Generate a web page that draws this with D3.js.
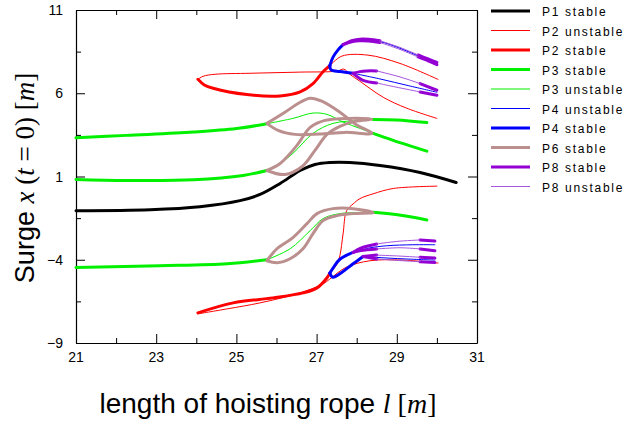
<!DOCTYPE html>
<html>
<head>
<meta charset="utf-8">
<script src="https://cdn.jsdelivr.net/npm/d3@7"></script>
<style>
  body { margin: 0; background: #fff; }
  svg { display: block; }
</style>
</head>
<body>
<script>
// chart size + plot box
let svgWidth = 626;
let svgHeight = 427;
let margin = { top: 10, right: 149, bottom: 84, left: 76 };
let chartWidth = svgWidth - margin.left - margin.right;
let chartHeight = svgHeight - margin.top - margin.bottom;

// axis values
let xDomain = [21, 31];
let yDomain = [-9, 11];
let xTickValues = d3.range(21, 31.01, 1);
let xTickLabels = [21, 23, 25, 27, 29, 31];
let yTickValues = d3.range(-9, 11.01, 2.5);
let yTickLabels = [-9, -4, 1, 6, 11];

// legend entries (order = draw order)
let seriesNames = ['P1 stable', 'P2 unstable', 'P2 stable', 'P3 stable', 'P3 unstable',
                   'P4 unstable', 'P4 stable', 'P6 stable', 'P8 stable', 'P8 unstable'];
let seriesColors = ['#000000', '#ff0000', '#ff0000', '#00f000', '#00f000',
                    '#0000ff', '#0000ff', '#bc8f8f', '#9400d3', '#a455dd'];
let seriesStable = [true, false, true, true, false, false, true, true, true, false];

// ---- data: [rope length l, surge x] ----
let p1Stable = [[21, -1.05], [22.85, -0.99], [24.09, -0.81], [25.09, -0.45], [25.59, -0.08],
  [26.09, 0.58], [26.59, 1.36], [26.96, 1.72], [27.33, 1.84], [27.83, 1.84], [28.58, 1.66],
  [29.58, 1.24], [30.48, 0.64]];

let p2UnstableA = [[30.0, 4.49], [29.25, 5.10], [28.66, 5.76], [28.08, 6.72], [27.83, 7.14],
  [27.68, 7.45], [27.51, 7.33], [26.59, 7.27], [25.34, 7.20], [24.47, 7.14], [24.17, 7.02], [24.04, 6.84]];
let p2StableA = [[24.04, 6.84], [24.2, 6.5], [24.42, 6.30], [25.26, 5.92], [26.09, 5.84],
  [26.59, 6.08], [26.91, 6.58], [27.16, 7.29], [27.33, 7.66]];
let p2UnstableB = [[27.33, 7.66], [27.63, 8.23], [28.28, 8.29], [29.08, 7.79], [30.03, 6.83]];
let p2StableC = [[24.04, -7.19], [24.92, -6.59], [25.91, -6.29], [26.66, -5.99], [27.01, -5.69],
  [27.26, -5.08], [27.33, -4.8]];
let p2UnstableC = [[24.04, -7.25], [24.77, -6.95], [25.59, -6.59], [26.59, -5.99], [27.16, -5.45],
  [27.33, -5.16], [27.73, -4.46], [28.33, -4.06], [29.15, -4.02], [30.03, -4.2]];
let p2UnstableD = [[27.33, -4.8], [27.5, -4.3], [27.58, -3.76], [27.66, -2.45], [27.75, -1.05],
  [27.91, -0.65], [28.08, -0.33], [28.41, -0.04], [28.91, 0.28], [30.0, 0.42]];

let p3StableA1 = [[21, 3.32], [22.26, 3.47], [23.93, 3.67], [25.0, 3.88], [25.76, 4.17]];
let p3StableA2 = [[28.41, 3.59], [28.91, 3.17], [29.75, 2.52]];
let p3StableB1 = [[21, 0.82], [22.26, 0.76], [23.93, 0.80], [25.17, 1.06], [25.76, 1.36]];
let p3StableB2 = [[28.41, 4.43], [29.0, 4.4], [29.75, 4.24]];
let p3StableC1 = [[21, -4.46], [23.09, -4.36], [24.77, -4.24], [25.76, -4.0]];
let p3StableC2 = [[28.41, -1.15], [29.1, -1.33], [29.75, -1.61]];
let p3UnstableA = [[25.76, 4.17], [26.41, 4.49], [26.91, 4.81], [27.26, 4.73], [27.66, 4.27],
  [28.08, 3.89], [28.41, 3.59]];
let p3UnstableB = [[25.76, 1.36], [25.91, 1.48], [26.41, 2.39], [26.91, 3.59], [27.41, 4.19],
  [28.08, 4.37], [28.41, 4.43]];
let p3UnstableC = [[25.76, -4.0], [26.34, -3.34], [26.84, -2.25], [27.16, -1.53], [27.58, -1.23],
  [28.41, -1.15]];

let p4StableA = [[27.33, 7.66], [27.41, 8.17], [27.53, 8.59], [27.66, 8.92]];
let p4StableB = [[27.33, 7.66], [27.36, 7.4], [27.58, 7.3], [27.91, 7.2]];
let p4StableC = [[27.33, -4.8], [27.41, -4.5], [27.58, -3.97], [27.91, -3.56]];
let p4StableD = [[27.33, -4.8], [27.4, -5.05], [27.58, -4.84], [27.91, -4.24], [28.16, -3.8]];
let p4UnstableA = [[27.66, 8.92], [28.08, 9.19], [28.58, 9.1], [29.08, 8.7], [29.58, 8.2], [30.0, 7.8]];
let p4UnstableB = [[27.91, 7.2], [28.58, 6.86], [29.3, 6.45], [30.0, 6.06]];
let p4UnstableC = [[27.91, -3.56], [28.3, -3.3], [28.75, -3.16], [29.4, -3.1], [29.95, -3.1]];
let p4UnstableD = [[28.16, -3.8], [28.5, -3.86], [29.2, -3.95], [29.95, -4.02]];

let p6LoopA = [[25.76, 4.19], [26.21, 4.86], [26.59, 5.46], [26.84, 5.70], [27.13, 5.52], [27.58, 4.86],
  [27.98, 4.13], [28.38, 3.59], [27.71, 3.65], [27.08, 3.55], [26.46, 3.53], [26.04, 3.77], [25.76, 4.19]];
let p6LoopB = [[25.76, 1.36], [26.09, 1.78], [26.51, 2.87], [26.84, 3.95], [27.21, 4.37], [27.83, 4.49],
  [28.38, 4.43], [27.96, 4.31], [27.58, 4.01], [27.26, 3.53], [26.96, 2.57], [26.64, 1.60], [26.21, 1.12],
  [25.76, 1.36]];
let p6LoopC = [[25.76, -4.06], [26.01, -3.34], [26.41, -2.67], [26.76, -1.83], [27.01, -1.23],
  [27.41, -0.93], [27.91, -0.93], [28.41, -1.17], [27.91, -1.23], [27.51, -1.35], [27.16, -1.65],
  [26.91, -2.43], [26.66, -3.34], [26.34, -3.94], [26.01, -4.18], [25.76, -4.06]];

// P8, upper group
let p8StableU1a = [[27.66, 8.92], [27.9, 9.17], [28.08, 9.25], [28.3, 9.24], [28.58, 9.15]];
let p8UnstableU1 = [[28.58, 9.15], [29.08, 8.75], [29.53, 8.3]];
let p8StableU1b = [[29.53, 8.3], [29.78, 8.06], [30.0, 7.85]];
let p8StableU2a = [[27.66, 8.92], [27.9, 9.1], [28.08, 9.15], [28.3, 9.14], [28.58, 9.05]];
let p8UnstableU2 = [[28.58, 9.05], [29.08, 8.63], [29.53, 8.18]];
let p8StableU2b = [[29.53, 8.18], [29.78, 7.95], [30.0, 7.72]];
let p8StableL1a = [[27.91, 7.2], [28.08, 7.3], [28.25, 7.34], [28.5, 7.34]];
let p8UnstableL1 = [[28.5, 7.34], [29.08, 6.98], [29.58, 6.58]];
let p8StableL1b = [[29.58, 6.58], [30.0, 6.18]];
let p8StableL2a = [[27.91, 7.2], [28.16, 6.78], [28.5, 6.62]];
let p8UnstableL2 = [[28.5, 6.62], [28.76, 6.48], [29.58, 6.08]];
let p8StableL2b = [[29.58, 6.08], [30.0, 5.88]];
// P8, lower group
let p8StableM1a = [[27.91, -3.56], [28.1, -3.3], [28.5, -3.05]];
let p8UnstableM1 = [[28.5, -3.05], [29.0, -2.9], [29.58, -2.81]];
let p8StableM1b = [[29.58, -2.81], [29.95, -2.88]];
let p8StableM2a = [[27.91, -3.56], [28.1, -3.45], [28.5, -3.35]];
let p8UnstableM2 = [[28.5, -3.35], [29.08, -3.28], [29.58, -3.35]];
let p8StableM2b = [[29.58, -3.35], [29.95, -3.46]];
let p8StableN1a = [[28.16, -3.8], [28.5, -3.72]];
let p8UnstableN1 = [[28.5, -3.72], [29.08, -3.78], [29.58, -3.85]];
let p8StableN1b = [[29.58, -3.85], [29.95, -3.9]];
let p8StableN2a = [[28.16, -3.8], [28.5, -3.95]];
let p8UnstableN2 = [[28.5, -3.95], [29.08, -4.05], [29.58, -4.12]];
let p8StableN2b = [[29.58, -4.12], [29.95, -4.16]];

// which arrays belong to which legend entry
let curves = [
  ['P1 stable', [p1Stable]],
  ['P2 unstable', [p2UnstableA, p2UnstableB, p2UnstableC, p2UnstableD]],
  ['P2 stable', [p2StableA, p2StableC]],
  ['P3 stable', [p3StableA1, p3StableA2, p3StableB1, p3StableB2, p3StableC1, p3StableC2]],
  ['P3 unstable', [p3UnstableA, p3UnstableB, p3UnstableC]],
  ['P4 unstable', [p4UnstableA, p4UnstableB, p4UnstableC, p4UnstableD]],
  ['P4 stable', [p4StableA, p4StableB, p4StableC, p4StableD]],
  ['P6 stable', [p6LoopA, p6LoopB, p6LoopC]],
  ['P8 stable', [p8StableU1a, p8StableU1b, p8StableU2a, p8StableU2b, p8StableL1a, p8StableL1b,
                 p8StableL2a, p8StableL2b, p8StableM1a, p8StableM1b, p8StableM2a, p8StableM2b,
                 p8StableN1a, p8StableN1b, p8StableN2a, p8StableN2b]],
  ['P8 unstable', [p8UnstableU1, p8UnstableU2, p8UnstableL1, p8UnstableL2,
                   p8UnstableM1, p8UnstableM2, p8UnstableN1, p8UnstableN2]]
];

// ---- svg ----
let svg = d3.select('body').append('svg')
  .attr('width', svgWidth)
  .attr('height', svgHeight);

let xScale = d3.scaleLinear().domain(xDomain).range([margin.left, margin.left + chartWidth]);
let yScale = d3.scaleLinear().domain(yDomain).range([margin.top + chartHeight, margin.top]);

let color = d3.scaleOrdinal().domain(seriesNames).range(seriesColors);
let stable = d3.scaleOrdinal().domain(seriesNames).range(seriesStable);

// axes: ticks inward on all four sides, labels only left + bottom
function tickSize(v, labels) { return labels.includes(v) ? 9 : 5; }

let fmt = d => d < 0 ? '\u2212' + Math.abs(d) : String(d);

let bottomAxis = svg.append('g').attr('transform', `translate(0, ${margin.top + chartHeight})`);
bottomAxis.call(d3.axisBottom(xScale).tickValues(xTickValues).tickSize(0).tickFormat(''));
bottomAxis.selectAll('.tick').append('line').attr('y2', d => -tickSize(d, xTickLabels)).attr('stroke', '#000');
let topAxis = svg.append('g').attr('transform', `translate(0, ${margin.top})`);
topAxis.call(d3.axisTop(xScale).tickValues(xTickValues).tickSize(0).tickFormat(''));
topAxis.selectAll('.tick').append('line').attr('y2', d => tickSize(d, xTickLabels)).attr('stroke', '#000');
let leftAxis = svg.append('g').attr('transform', `translate(${margin.left}, 0)`);
leftAxis.call(d3.axisLeft(yScale).tickValues(yTickValues).tickSize(0).tickFormat(''));
leftAxis.selectAll('.tick').append('line').attr('x2', d => tickSize(d, yTickLabels)).attr('stroke', '#000');
let rightAxis = svg.append('g').attr('transform', `translate(${margin.left + chartWidth}, 0)`);
rightAxis.call(d3.axisRight(yScale).tickValues(yTickValues).tickSize(0).tickFormat(''));
rightAxis.selectAll('.tick').append('line').attr('x2', d => -tickSize(d, yTickLabels)).attr('stroke', '#000');
svg.selectAll('.domain').attr('stroke', '#000').attr('stroke-width', 1.2);

// tick labels
svg.append('g').selectAll('text').data(xTickLabels).enter().append('text')
  .attr('x', d => xScale(d)).attr('y', margin.top + chartHeight + 19)
  .attr('text-anchor', 'middle')
  .style('font', '14px "Liberation Sans", Arial, sans-serif')
  .text(fmt);
svg.append('g').selectAll('text').data(yTickLabels).enter().append('text')
  .attr('x', margin.left - 13).attr('y', d => yScale(d) + 5)
  .attr('text-anchor', 'end')
  .style('font', '14px "Liberation Sans", Arial, sans-serif')
  .text(fmt);

// curves
let line = d3.line()
  .x(d => xScale(d[0]))
  .y(d => yScale(d[1]))
  .curve(d3.curveCatmullRom.alpha(0.5));

let plot = svg.append('g');
curves.forEach(function (c) {
  plot.selectAll(null).data(c[1]).enter().append('path')
    .attr('d', line)
    .attr('fill', 'none')
    .attr('stroke', color(c[0]))
    .attr('stroke-width', stable(c[0]) ? 3 : 1)
    .attr('stroke-linecap', 'round')
    .attr('stroke-linejoin', 'round');
});

// legend
let legend = svg.append('g').selectAll('g').data(seriesNames).enter().append('g')
  .attr('transform', (d, i) => `translate(491, ${11 + i * 19.5})`);
legend.append('line')
  .attr('x1', 0).attr('x2', 39)
  .attr('stroke', d => color(d))
  .attr('stroke-width', d => stable(d) ? 3 : 1);
legend.append('text')
  .attr('x', 51).attr('y', 5)
  .style('font', '12px "Liberation Sans", Arial, sans-serif')
  .style('letter-spacing', '1.7px')
  .text(d => d);

// axis titles
let sans = '"Liberation Sans", Arial, sans-serif';
let serif = '"Liberation Serif", "DejaVu Serif", serif';

let xTitle = svg.append('text')
  .attr('x', 268).attr('y', 413)
  .attr('text-anchor', 'middle')
  .style('font-size', '28px');
xTitle.append('tspan').style('font-family', sans).text('length of hoisting rope ');
xTitle.append('tspan').style('font-family', serif).style('font-style', 'italic').text('l');
xTitle.append('tspan').style('font-family', serif).text(' [');
xTitle.append('tspan').style('font-family', serif).style('font-style', 'italic').text('m');
xTitle.append('tspan').style('font-family', serif).text(']');

let yTitle = svg.append('text')
  .attr('transform', 'translate(34, 178) rotate(-90)')
  .attr('text-anchor', 'middle')
  .style('font-size', '27px');
yTitle.append('tspan').style('font-family', sans).text('Surge ');
yTitle.append('tspan').style('font-family', serif).style('font-style', 'italic').text('x');
yTitle.append('tspan').style('font-family', serif).text(' (');
yTitle.append('tspan').style('font-family', serif).style('font-style', 'italic').text('t');
yTitle.append('tspan').style('font-family', serif).text(' = 0) [');
yTitle.append('tspan').style('font-family', serif).style('font-style', 'italic').text('m');
yTitle.append('tspan').style('font-family', serif).text(']');
</script>
</body>
</html>
